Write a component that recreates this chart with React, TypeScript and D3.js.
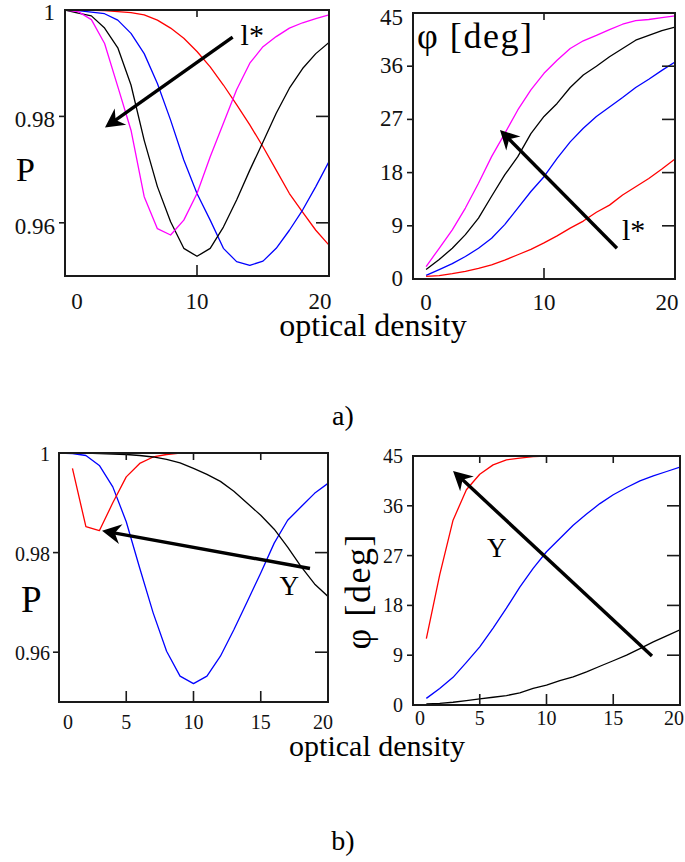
import React from "react";
import * as d3 from "d3";

// ---------- data ----------
const densityFull = [0, 1, 2, 3, 4, 5, 6, 7, 8, 9, 10, 11, 12, 13, 14, 15, 16, 17, 18, 19, 20];
const densityFrom1 = [1, 2, 3, 4, 5, 6, 7, 8, 9, 10, 11, 12, 13, 14, 15, 16, 17, 18, 19, 20];

// a) P vs optical density, four l* values
const aP_red = [1.0, 1.0, 0.99995, 0.9999, 0.9997, 0.9995, 0.9991, 0.9981, 0.9966, 0.9947, 0.9922, 0.9893, 0.9859, 0.9822, 0.9784, 0.9743, 0.9699, 0.9655, 0.962, 0.9586, 0.9558];
const aP_blue = [1.0, 0.9999, 0.9996, 0.9993, 0.9981, 0.9956, 0.9918, 0.9862, 0.9793, 0.9718, 0.9655, 0.9605, 0.9552, 0.9527, 0.952, 0.9528, 0.9552, 0.9586, 0.9624, 0.9668, 0.9715];
const aP_black = [1.0, 0.9994, 0.9989, 0.9966, 0.9929, 0.9859, 0.9755, 0.9668, 0.9602, 0.9552, 0.9537, 0.9552, 0.9592, 0.9643, 0.9699, 0.9752, 0.9806, 0.9853, 0.989, 0.9918, 0.9939];
const aP_magenta = [1.0, 0.9997, 0.9982, 0.9937, 0.9856, 0.9774, 0.9649, 0.9589, 0.9577, 0.9605, 0.9655, 0.9724, 0.9787, 0.985, 0.99, 0.9931, 0.995, 0.9966, 0.9976, 0.9984, 0.9991];

// a) phi vs optical density
const aPhi_magenta = [2.1, 5.2, 8.3, 12.0, 16.2, 20.7, 24.6, 28.6, 32.0, 34.8, 37.0, 39.0, 40.3, 41.2, 42.2, 43.1, 43.7, 43.9, 44.2, 44.5];
const aPhi_black = [1.6, 3.3, 5.2, 7.5, 10.3, 14.0, 17.6, 20.7, 24.6, 27.5, 29.7, 32.4, 34.5, 36.0, 37.6, 39.0, 40.4, 41.2, 42.0, 42.6];
const aPhi_blue = [0.6, 1.6, 2.6, 3.8, 5.2, 6.9, 9.2, 12.0, 14.8, 17.3, 20.4, 23.2, 25.5, 27.5, 29.1, 30.7, 32.4, 33.8, 35.3, 36.7];
const aPhi_red = [0.45, 0.56, 0.9, 1.3, 1.8, 2.4, 3.2, 4.1, 5.0, 6.1, 7.3, 8.6, 9.8, 11.3, 12.5, 14.2, 15.6, 17.0, 18.6, 20.3];

// b) P vs optical density, three Y values
const bP_blue = [1.0, 0.9999, 0.9995, 0.9975, 0.9932, 0.9862, 0.9769, 0.9679, 0.9602, 0.9552, 0.9537, 0.9552, 0.9592, 0.9645, 0.9702, 0.9759, 0.9819, 0.9865, 0.9892, 0.9919, 0.9939];
const bP_red = [0.9969, 0.9852, 0.9844, 0.99, 0.9952, 0.9979, 0.9992, 0.9997, 1.0, 1.0, 1.0, 1.0, 1.0, 1.0, 1.0, 1.0, 1.0, 1.0, 1.0, 1.0];
const bP_black = [1.0, 1.0, 1.0, 0.9999, 0.9998, 0.9997, 0.9995, 0.9992, 0.9987, 0.998, 0.9969, 0.9957, 0.9943, 0.9923, 0.9899, 0.9875, 0.9847, 0.9811, 0.9772, 0.9737, 0.9712];

// b) phi vs optical density
const bPhi_red = [12.0, 23.5, 33.4, 38.9, 41.7, 43.4, 44.3, 44.6, 44.9, 45, 45, 45, 45, 45, 45, 45, 45, 45, 45, 45];
const bPhi_blue = [1.2, 3.0, 5.0, 7.7, 10.5, 13.9, 17.5, 21.3, 24.7, 27.7, 30.1, 32.5, 34.5, 36.4, 38.0, 39.3, 40.5, 41.4, 42.2, 43.0];
const bPhi_black = [0.2, 0.3, 0.5, 0.8, 1.1, 1.4, 1.7, 2.2, 3.0, 3.6, 4.4, 5.1, 6.0, 7.0, 8.0, 9.0, 10.2, 11.4, 12.5, 13.6];

// ticks
const pTicks = [1, 0.98, 0.96];
const pTickLabels = ["1", "0.98", "0.96"];
const phiTicks = [0, 9, 18, 27, 36, 45];
const phiTickLabels = ["0", "9", "18", "27", "36", "45"];
const xTicksA = [0, 10, 20];
const xTickLabelsA = ["0", "10", "20"];
const xTicksB = [0, 5, 10, 15, 20];
const xTickLabelsB = ["0", "5", "10", "15", "20"];

const SERIF = "'Liberation Serif', 'Times New Roman', serif";

type Series = { x: number[]; y: number[]; color: string };
type Ann = { from: [number, number]; to: [number, number]; label: string; labelAt: [number, number]; labelSize: number };

type PanelProps = {
  box: { left: number; right: number; top: number; bottom: number };
  yDomain: [number, number];
  yTicks: number[];
  yTickLabels: string[];
  xTicks: number[];
  xTickLabels: string[];
  series: Series[];
  tickFont: number;
  yLabelGap: number;
  yLabelDy: number;
  yLabelDyTop: number;
  xLabelDy: number;
  xEndNudge: [number, number];
  ann: Ann;
};

function Panel(p: PanelProps) {
  const { box } = p;
  const x = d3.scaleLinear().domain([0, 20]).range([box.left, box.right]);
  const y = d3.scaleLinear().domain(p.yDomain).range([box.bottom, box.top]);
  const line = d3
    .line<[number, number]>()
    .x((d) => x(d[0]))
    .y((d) => y(d[1]));

  const innerX = p.xTicks.filter((t) => t > 0 && t < 20);
  const innerY = p.yTicks.filter((t) => t > p.yDomain[0] && t < p.yDomain[1]);

  // arrow
  const sx = x(p.ann.from[0]);
  const sy = y(p.ann.from[1]);
  const tx = x(p.ann.to[0]);
  const ty = y(p.ann.to[1]);
  const len = Math.hypot(tx - sx, ty - sy);
  const ux = (tx - sx) / len;
  const uy = (ty - sy) / len;
  const nx = -uy;
  const ny = ux;
  const L = 19;
  const W = 10;
  const notch = 6;
  const head = [
    [tx, ty],
    [tx - ux * L + nx * W, ty - uy * L + ny * W],
    [tx - ux * (L - notch), ty - uy * (L - notch)],
    [tx - ux * L - nx * W, ty - uy * L - ny * W],
  ]
    .map((q) => q.join(","))
    .join(" ");

  const clipId = `clip-${box.left}-${box.top}`;

  return (
    <g>
      <defs>
        <clipPath id={clipId}>
          <rect x={box.left} y={box.top - 1} width={box.right - box.left} height={box.bottom - box.top + 2} />
        </clipPath>
      </defs>
      <g clipPath={`url(#${clipId})`}>
        {p.series.map((s, i) => (
          <path
            key={i}
            d={line(s.x.map((v, j) => [v, s.y[j]] as [number, number])) || ""}
            fill="none"
            stroke={s.color}
            strokeWidth={1.3}
            strokeLinejoin="round"
          />
        ))}
      </g>
      {/* frame */}
      <rect
        x={box.left}
        y={box.top}
        width={box.right - box.left}
        height={box.bottom - box.top}
        fill="none"
        stroke="#1a1a1a"
        strokeWidth={2}
      />
      {/* y ticks: outward on left, inward on right */}
      {innerY.map((t) => (
        <g key={`yt${t}`}>
          <line x1={box.left - 6} x2={box.left} y1={y(t)} y2={y(t)} stroke="#1a1a1a" strokeWidth={1.6} />
          <line x1={box.right - 13} x2={box.right} y1={y(t)} y2={y(t)} stroke="#1a1a1a" strokeWidth={1.6} />
        </g>
      ))}
      {/* x ticks inward top and bottom */}
      {innerX.map((t) => (
        <g key={`xt${t}`}>
          <line x1={x(t)} x2={x(t)} y1={box.top} y2={box.top + 7} stroke="#1a1a1a" strokeWidth={1.6} />
          <line x1={x(t)} x2={x(t)} y1={box.bottom - 11} y2={box.bottom} stroke="#1a1a1a" strokeWidth={1.6} />
        </g>
      ))}
      {/* y tick labels */}
      {p.yTicks.map((t, i) => (
        <text
          key={`yl${t}`}
          x={box.left - p.yLabelGap}
          y={y(t) + (t === p.yDomain[1] ? p.yLabelDyTop : p.yLabelDy)}
          textAnchor="end"
          fontFamily={SERIF}
          fontSize={p.tickFont}
          fill="#111"
        >
          {p.yTickLabels[i]}
        </text>
      ))}
      {/* x tick labels */}
      {p.xTicks.map((t, i) => (
        <text
          key={`xl${t}`}
          x={x(t) + (i === 0 ? p.xEndNudge[0] : i === p.xTicks.length - 1 ? p.xEndNudge[1] : 0)}
          y={box.bottom + p.xLabelDy}
          textAnchor="middle"
          fontFamily={SERIF}
          fontSize={p.tickFont}
          fill="#111"
        >
          {p.xTickLabels[i]}
        </text>
      ))}
      {/* annotation arrow */}
      <line
        x1={sx}
        y1={sy}
        x2={tx - ux * (L - notch - 1)}
        y2={ty - uy * (L - notch - 1)}
        stroke="#000"
        strokeWidth={3.4}
      />
      <polygon points={head} fill="#000" />
      <text
        x={x(p.ann.labelAt[0])}
        y={y(p.ann.labelAt[1])}
        fontFamily={SERIF}
        fontSize={p.ann.labelSize}
        fill="#000"
      >
        {p.ann.label}
      </text>
    </g>
  );
}

export default function App() {
  return (
    <svg
      width={685}
      height={862}
      style={{ position: "absolute", left: 0, top: 0, background: "#fff" }}
      xmlns="http://www.w3.org/2000/svg"
    >
      <rect x={0} y={0} width={685} height={862} fill="#fff" />
      {/* a) left: P */}
      <Panel
        box={{ left: 65, right: 329, top: 10, bottom: 276 }}
        yDomain={[0.95, 1]}
        yTicks={pTicks}
        yTickLabels={pTickLabels}
        xTicks={xTicksA}
        xTickLabels={xTickLabelsA}
        series={[
          { x: densityFull, y: aP_red, color: "#ff0000" },
          { x: densityFull, y: aP_blue, color: "#0000ff" },
          { x: densityFull, y: aP_black, color: "#000000" },
          { x: densityFull, y: aP_magenta, color: "#ff00ff" },
        ]}
        tickFont={23}
        yLabelGap={10}
        yLabelDy={11}
        yLabelDyTop={10}
        xLabelDy={33}
        xEndNudge={[12, -9]}
        ann={{ from: [12.7, 0.9949], to: [3.03, 0.9779], label: "l*", labelAt: [13.3, 0.9934], labelSize: 30 }}
      />
      <text x={16} y={181} fontFamily={SERIF} fontSize={34} fill="#000">P</text>

      {/* a) right: phi */}
      <Panel
        box={{ left: 413, right: 675, top: 13, bottom: 279 }}
        yDomain={[0, 45]}
        yTicks={phiTicks}
        yTickLabels={phiTickLabels}
        xTicks={xTicksA}
        xTickLabels={xTickLabelsA}
        series={[
          { x: densityFrom1, y: aPhi_magenta, color: "#ff00ff" },
          { x: densityFrom1, y: aPhi_black, color: "#000000" },
          { x: densityFrom1, y: aPhi_blue, color: "#0000ff" },
          { x: densityFrom1, y: aPhi_red, color: "#ff0000" },
        ]}
        tickFont={23}
        yLabelGap={10}
        yLabelDy={7}
        yLabelDyTop={12}
        xLabelDy={31}
        xEndNudge={[13, -8]}
        ann={{ from: [15.57, 5.2], to: [6.64, 25.2], label: "l*", labelAt: [15.95, 6.6], labelSize: 30 }}
      />
      <text x={417} y={48} fontFamily={SERIF} fontSize={36} textLength={115} lengthAdjust="spacing" fill="#000">φ [deg]</text>

      <text x={373} y={336} textAnchor="middle" fontFamily={SERIF} fontSize={32} fill="#000">optical density</text>
      <text x={343} y={425} textAnchor="middle" fontFamily={SERIF} fontSize={28} fill="#000">a)</text>

      {/* b) left: P */}
      <Panel
        box={{ left: 59, right: 328, top: 453, bottom: 702 }}
        yDomain={[0.95, 1]}
        yTicks={pTicks}
        yTickLabels={pTickLabels}
        xTicks={xTicksB}
        xTickLabels={xTickLabelsB}
        series={[
          { x: densityFull, y: bP_blue, color: "#0000ff" },
          { x: densityFrom1, y: bP_red, color: "#ff0000" },
          { x: densityFull, y: bP_black, color: "#000000" },
        ]}
        tickFont={20}
        yLabelGap={9}
        yLabelDy={8}
        yLabelDyTop={8}
        xLabelDy={27}
        xEndNudge={[9, -5]}
        ann={{ from: [18.66, 0.9768], to: [3.2, 0.9844], label: "Y", labelAt: [16.4, 0.9714], labelSize: 27 }}
      />
      <text x={21} y={612} fontFamily={SERIF} fontSize={37} fill="#000">P</text>

      {/* b) right: phi */}
      <Panel
        box={{ left: 413, right: 680, top: 456, bottom: 705 }}
        yDomain={[0, 45]}
        yTicks={phiTicks}
        yTickLabels={phiTickLabels}
        xTicks={xTicksB}
        xTickLabels={xTickLabelsB}
        series={[
          { x: densityFrom1, y: bPhi_red, color: "#ff0000" },
          { x: densityFrom1, y: bPhi_blue, color: "#0000ff" },
          { x: densityFrom1, y: bPhi_black, color: "#000000" },
        ]}
        tickFont={20}
        yLabelGap={10}
        yLabelDy={7}
        yLabelDyTop={7}
        xLabelDy={20}
        xEndNudge={[7, -6]}
        ann={{ from: [17.9, 8.86], to: [3.0, 42.3], label: "Y", labelAt: [5.54, 26.7], labelSize: 27 }}
      />
      <text
        transform="translate(370,592) rotate(-90)"
        textAnchor="middle"
        fontFamily={SERIF}
        fontSize={36}
        textLength={115}
        lengthAdjust="spacing"
        fill="#000"
      >
        φ [deg]
      </text>

      <text x={377} y={756} textAnchor="middle" fontFamily={SERIF} fontSize={30} fill="#000">optical density</text>
      <text x={343} y={850} textAnchor="middle" fontFamily={SERIF} fontSize={28} fill="#000">b)</text>
    </svg>
  );
}
